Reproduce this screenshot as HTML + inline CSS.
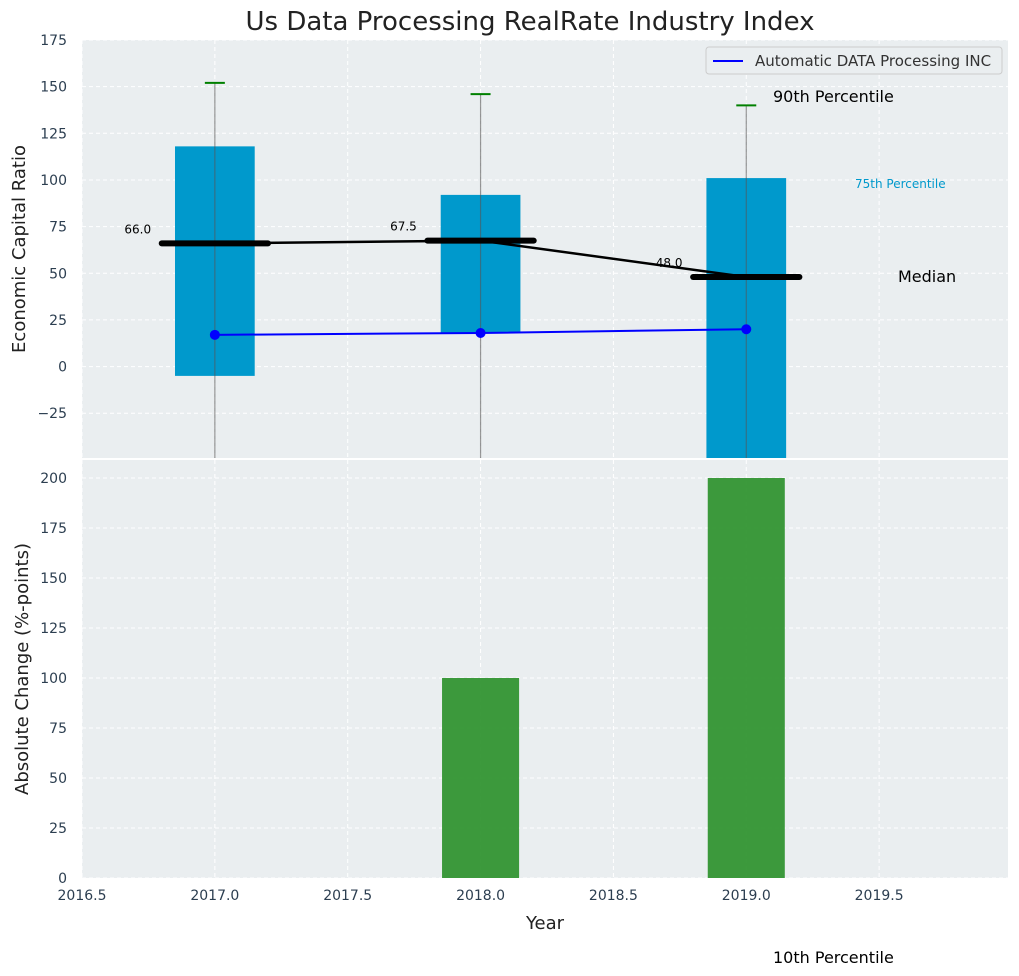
<!DOCTYPE html>
<html><head><meta charset="utf-8"><style>body{margin:0;background:#fff}svg{display:block;font-family:"DejaVu Sans","Liberation Sans",sans-serif}</style></head>
<body>
<svg id="c" width="1019" height="976" viewBox="0 0 1019 976"></svg>
<script>
const years=[2017,2018,2019];
const q75=[118,92,101];
const q25=[-5,18,-60];
const p90=[152,146,140];
const p10=[-60,-60,-60];
const medians=[66,67.5,48];
const companyVals=[17,18,20];
const changeVals=[0,100,200];
const topTicks=[-25,0,25,50,75,100,125,150,175];
const botTicks=[0,25,50,75,100,125,150,175,200];
const xTicks=[2016.5,2017,2017.5,2018,2018.5,2019,2019.5];

const svg=document.getElementById('c');const NS='http://www.w3.org/2000/svg';
function el(t,a,p){const e=document.createElementNS(NS,t);for(const k in a)e.setAttribute(k,a[k]);(p||svg).appendChild(e);return e;}
const L=82,R=1008;
const X=v=>L+(v-2016.5)*(R-L)/(2019.985-2016.5);
const T0=40,T1=458,B0=460,B1=878;
const YT=v=>T0+(175-v)*(T1-T0)/(175+49);
const YB=v=>B0+(209-v)*(B1-B0)/209;
const defs=el('defs',{});
const cp1=el('clipPath',{id:'ct'},defs);el('rect',{x:L,y:T0,width:R-L,height:T1-T0},cp1);
const cp2=el('clipPath',{id:'cb'},defs);el('rect',{x:L,y:B0,width:R-L,height:B1-B0},cp2);

let e=el('rect',{x:L,y:T0,width:R-L,height:T1-T0,fill:'#eaeef0'});

e=el('rect',{x:L,y:B0,width:R-L,height:B1-B0,fill:'#eaeef0'});


xTicks.forEach(t=>{el('line',{x1:X(t),x2:X(t),y1:T0,y2:T1,stroke:'#fff','stroke-dasharray':'4 3'});el('line',{x1:X(t),x2:X(t),y1:B0,y2:B1,stroke:'#fff','stroke-dasharray':'4 3'});});
topTicks.forEach(t=>{el('line',{x1:L,x2:R,y1:YT(t),y2:YT(t),stroke:'#fff','stroke-dasharray':'4 3'});
 e=el('text',{x:L-15,y:YT(t)+5,'text-anchor':'end','font-size':14,fill:'#2c3e50'});e.textContent=t<0?'−'+(-t):t;
 });
botTicks.forEach(t=>{el('line',{x1:L,x2:R,y1:YB(t),y2:YB(t),stroke:'#fff','stroke-dasharray':'4 3'});
 e=el('text',{x:L-15,y:YB(t)+5,'text-anchor':'end','font-size':14,fill:'#2c3e50'});e.textContent=t;
 });
xTicks.forEach(t=>{e=el('text',{x:X(t),y:B1+22,'text-anchor':'middle','font-size':14,fill:'#2c3e50'});e.textContent=t.toFixed(1);
 });

const gt=el('g',{'clip-path':'url(#ct)'});
const w=0.15;
years.forEach((y,i)=>{
 e=el('rect',{x:X(y-w),y:YT(q75[i]),width:X(y+w)-X(y-w),height:YT(q25[i])-YT(q75[i]),fill:'#0099cc'},gt);
 
 e=el('line',{x1:X(y),x2:X(y),y1:YT(p90[i]),y2:YT(p10[i]),stroke:'#555','stroke-opacity':0.6,'stroke-width':1.2},gt);
 
 e=el('line',{x1:X(y)-10,x2:X(y)+10,y1:YT(p90[i]),y2:YT(p90[i]),stroke:'green','stroke-width':2},gt);
 
});
e=el('polyline',{points:years.map((y,i)=>X(y)+','+YT(medians[i])).join(' '),fill:'none',stroke:'#000','stroke-width':2.5},gt);

years.forEach((y,i)=>{
 e=el('line',{x1:X(y-0.2),x2:X(y+0.2),y1:YT(medians[i]),y2:YT(medians[i]),stroke:'#000','stroke-width':6,'stroke-linecap':'round'},gt);
 
 e=el('text',{x:X(y-0.24),y:YT(medians[i])-10,'text-anchor':'end','font-size':12,fill:'#000'},gt);e.textContent=medians[i].toFixed(1);
 
});
e=el('polyline',{points:years.map((y,i)=>X(y)+','+YT(companyVals[i])).join(' '),fill:'none',stroke:'#0000ff','stroke-width':2},gt);

years.forEach((y,i)=>{e=el('circle',{cx:X(y),cy:YT(companyVals[i]),r:5,fill:'#0000ff'},gt);
 });

const gb=el('g',{'clip-path':'url(#cb)'});
years.forEach((y,i)=>{if(!changeVals[i])return;
 e=el('rect',{x:X(y-0.145),y:YB(changeVals[i]),width:X(y+0.145)-X(y-0.145),height:YB(0)-YB(changeVals[i]),fill:'#2e922e','fill-opacity':0.93},gb);
 });

function txt(x,y,s,a,name){e=el('text',Object.assign({x:x,y:y},a));e.textContent=s;return e;}
txt(530,30,'Us Data Processing RealRate Industry Index',{'text-anchor':'middle','font-size':26,fill:'#222'},'chart-title');
txt(545,929,'Year',{'text-anchor':'middle','font-size':18,fill:'#222'},'x-axis-title');
txt(0,0,'Economic Capital Ratio',{'text-anchor':'middle','font-size':18,fill:'#222',transform:'translate(25,249) rotate(-90)'},'top-y-axis-title');
txt(0,0,'Absolute Change (%-points)',{'text-anchor':'middle','font-size':18,fill:'#222',transform:'translate(28,669) rotate(-90)'},'bottom-y-axis-title');
txt(773,102,'90th Percentile',{'font-size':16,fill:'#000'},'p90-annotation');
txt(855,188,'75th Percentile',{'font-size':12,fill:'#0099cc'},'p75-annotation');
txt(898,282,'Median',{'font-size':16,fill:'#000'},'median-annotation');
txt(773,963,'10th Percentile',{'font-size':16,fill:'#000'},'p10-annotation');
const lg=el('g',{});
el('rect',{x:706,y:47,width:296,height:27,rx:3,fill:'#eaeef0',stroke:'#ccc'},lg);
el('line',{x1:713,x2:743,y1:61,y2:61,stroke:'#0000ff','stroke-width':2},lg);
e=el('text',{x:755,y:66,'font-size':15,fill:'#333'},lg);e.textContent='Automatic DATA Processing INC';

</script>
</body></html>
